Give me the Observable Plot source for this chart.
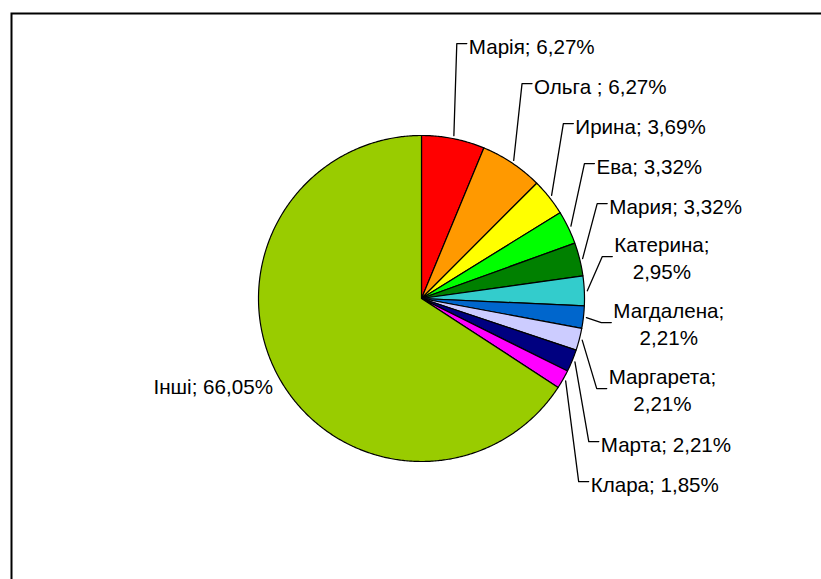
<!DOCTYPE html>
<html><head><meta charset="utf-8">
<script src="https://cdn.jsdelivr.net/npm/d3@7"></script>
<script src="https://cdn.jsdelivr.net/npm/@observablehq/plot@0.6"></script>
<style>body{margin:0;background:#fff;color:#000}</style>
</head><body><div id="chart"></div>
<script>
// ---- data ----
const names  = ["Марія", "Ольга ", "Ирина", "Ева", "Мария", "Катерина", "Магдалена", "Маргарета", "Марта", "Клара", "Інші"];
const shares = [6.27, 6.27, 3.69, 3.32, 3.32, 2.95, 2.21, 2.21, 2.21, 1.85, 66.05];
const colors = ["#ff0000", "#ff9900", "#ffff00", "#00ff00", "#008000", "#33cccc", "#0066cc", "#ccccff", "#000080", "#ff00ff", "#99cc00"];

// ---- layout ----
const W = 821, H = 579, CX = 421, CY = 298, R = 163;
const FONT = 20.6, LH = 27, FAMILY = "'Liberation Sans', Arial, sans-serif";
const WRAP = 145, H1 = 40, H2 = 66, RX = 181, RN = 249;

const ctx = document.createElement("canvas").getContext("2d");
ctx.font = `${FONT}px ${FAMILY}`;
const measure = s => ctx.measureText(s).width;
const fmt = v => v.toFixed(2).replace(".", ",") + "%";

const arcs = d3.pie().sort(null).value(d => d)(shares);

// slice polygons
const slicePts = [];
arcs.forEach((a, i) => {
  const n = Math.max(2, Math.ceil((a.endAngle - a.startAngle) / (Math.PI / 360)));
  slicePts.push({name: names[i], x: 0, y: 0});
  for (let k = 0; k <= n; k++) {
    const t = a.startAngle + (a.endAngle - a.startAngle) * k / n;
    slicePts.push({name: names[i], x: R * Math.sin(t), y: R * Math.cos(t)});
  }
  slicePts.push({name: names[i], x: 0, y: 0});
});

// labels
const right = [], left = [];
arcs.forEach((a, i) => {
  const mid = (a.startAngle + a.endAngle) / 2;
  const single = `${names[i]}; ${fmt(shares[i])}`;
  if (Math.sin(mid) < 0) {
    left.push({name: names[i], text: single, x: (R + 6) * Math.sin(mid), y: (R + 6) * Math.cos(mid)});
    return;
  }
  const wrap = measure(single) > WRAP;
  const lines = wrap ? [`${names[i]};`, fmt(shares[i])] : [single];
  right.push({name: names[i], mid, text: lines.join("\n"), w: Math.max(...lines.map(measure)), h: wrap ? H2 : H1});
});
// stack right labels vertically around their natural positions
let rel = 0;
right.forEach((d, i) => { if (i) rel += (right[i - 1].h + d.h) / 2; d.rel = rel; });
const shift = d3.mean(right, d => RN * Math.cos(d.mid)) + d3.mean(right, d => d.rel);
const leaders = [], texts = [];
right.forEach(d => {
  const cx = RX * Math.sin(d.mid), cy = shift - d.rel;
  leaders.push({name: d.name, x: (R + 3) * Math.sin(d.mid), y: (R + 3) * Math.cos(d.mid)});
  leaders.push({name: d.name, x: cx, y: cy});
  leaders.push({name: d.name, x: cx + 10, y: cy});
  const lines = d.text.split("\n").length;
  texts.push({text: d.text, x: cx + 12 + d.w / 2, y: lines === 1 ? cy - 2 : cy});
});

const chart = Plot.plot({
  width: W, height: H, margin: 0,
  x: {domain: [-CX, W - CX], axis: null},
  y: {domain: [CY - H, CY], axis: null},
  color: {domain: names, range: colors},
  style: {fontFamily: FAMILY, background: "#fff", color: "#000"},
  marks: [
    Plot.frame({stroke: "#000", strokeWidth: 2, insetLeft: 11, insetTop: 13, insetRight: -20, insetBottom: -20}),
    Plot.line(slicePts, {x: "x", y: "y", z: "name", fill: "name", stroke: "#000", strokeWidth: 1.2, strokeLinejoin: "round"}),
    Plot.line(leaders, {x: "x", y: "y", z: "name", stroke: "#000", strokeWidth: 1.3}),
    Plot.text(texts, {x: "x", y: "y", text: "text", textAnchor: "middle", lineAnchor: "middle", fontSize: FONT, lineHeight: LH / FONT, fill: "#000"}),
    Plot.text(left, {x: "x", y: "y", text: "text", textAnchor: "end", lineAnchor: "top", fontSize: FONT, fill: "#000"})
  ]
});
document.getElementById("chart").appendChild(chart);
</script>
</body></html>
